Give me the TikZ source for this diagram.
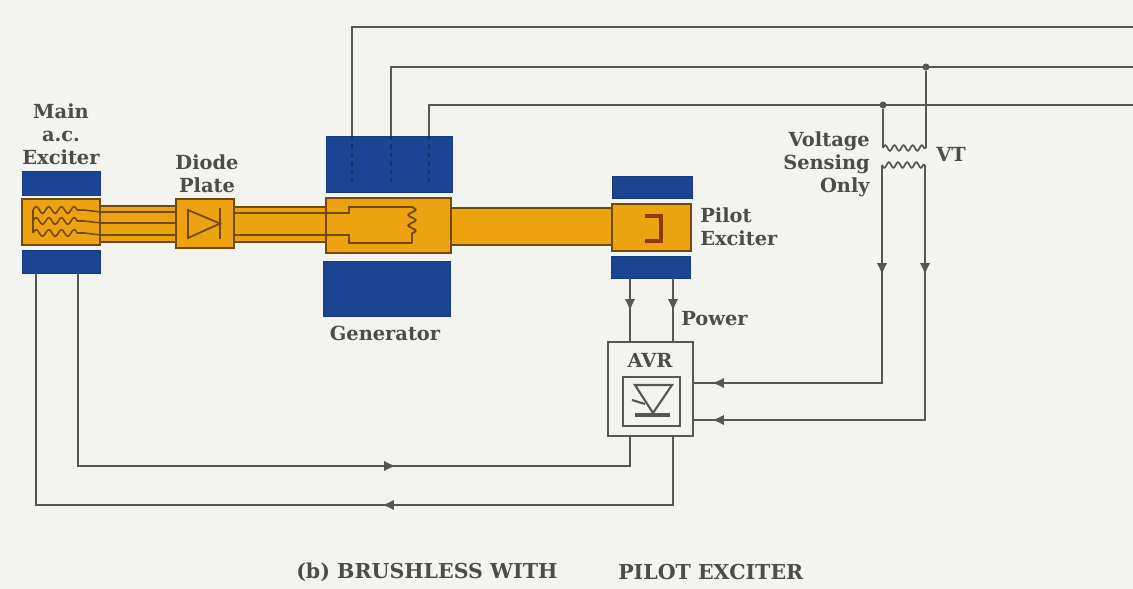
\documentclass[tikz,border=0pt]{standalone}
\usepackage{fontspec}
\setmainfont{DejaVu Serif}
\usetikzlibrary{arrows.meta, shapes.misc, decorations.pathmorphing, positioning}
\definecolor{paper}{HTML}{F3F3F0}
\definecolor{statorblue}{HTML}{1B4593}
\definecolor{statordark}{HTML}{153A7E}
\definecolor{rotororange}{HTML}{EDA20F}
\definecolor{rotoredge}{HTML}{6F4A0A}
\definecolor{wiregray}{HTML}{565654}
\definecolor{labelgray}{HTML}{4C4C4A}
\definecolor{magnetbrown}{HTML}{8A3A08}

\begin{document}
\begin{tikzpicture}[x=0.025cm,y=-0.025cm,>={Latex[length=8.5pt,width=7.5pt]}]
        \tikzstyle{stator} = [fill=statorblue, draw=statordark, line width=0.4pt, inner sep=0pt]
        \tikzstyle{rotor} = [fill=rotororange, draw=rotoredge, line width=1.3pt, inner sep=0pt]
        \tikzstyle{shaft} = [fill=rotororange, draw=rotoredge, line width=1.3pt, inner sep=0pt]
        \tikzstyle{rotorline} = [draw=rotoredge, line width=1.3pt]
        \tikzstyle{wire} = [draw=wiregray, line width=1.5pt]
        \tikzstyle{label} = [text=labelgray, font=\fontsize{13.8}{16.5}\selectfont\bfseries, inner sep=0pt]
        \tikzstyle{caption} = [text=labelgray, font=\fontsize{14.6}{17}\selectfont\bfseries, inner sep=0pt]
        \tikzstyle{dot} = [circle, fill=wiregray, minimum size=5pt, inner sep=0pt]
        \tikzstyle{winding} = [draw=wiregray, line width=1.2pt, decorate, decoration={coil, aspect=0, segment length=6.5pt, amplitude=2pt}]
        \tikzstyle{box} = [draw=wiregray, line width=1.5pt, fill=paper, inner sep=0pt]

        %Sheet
        \useasboundingbox (0,0) rectangle (1133,588);
        \fill[paper] (-5,-5) rectangle (1138,593);

        %Shafts go first, the machines sit on top of them
        \node [shaft, minimum width=2.1cm, minimum height=0.9cm] (mainShaft) at (138,224) {};
        \node [shaft, minimum width=2.45cm, minimum height=0.88cm] (genShaft) at (279,224.5) {};
        \node [shaft, minimum width=4.15cm, minimum height=0.92cm] (pilotShaft) at (532,226.5) {};

        %Creating Blocks
        \node [stator, minimum width=1.95cm, minimum height=0.6cm] (mainTop) at (61,183) {};
        \node [rotor, minimum width=1.95cm, minimum height=1.17cm] (mainRotor) at (61,222) {};
        \node [stator, minimum width=1.95cm, minimum height=0.58cm] (mainBot) at (61,261.5) {};
        \node [rotor, chamfered rectangle, chamfered rectangle xsep=3pt, chamfered rectangle ysep=3pt,
            minimum width=1.45cm, minimum height=1.22cm] (plate) at (205,223.5) {};
        \node [stator, minimum width=3.15cm, minimum height=1.4cm] (genTop) at (389,164) {};
        \node [rotor, minimum width=3.12cm, minimum height=1.38cm] (genRotor) at (388.5,225.5) {};
        \node [stator, minimum width=3.17cm, minimum height=1.38cm] (genBot) at (386.5,288.5) {};
        \node [stator, minimum width=2cm, minimum height=0.55cm] (pilotTop) at (652,187) {};
        \node [rotor, minimum width=1.98cm, minimum height=1.18cm] (pilotRotor) at (651.5,227.5) {};
        \node [stator, minimum width=1.98cm, minimum height=0.55cm] (pilotBot) at (650.5,267) {};
        \node [box, minimum width=2.12cm, minimum height=2.35cm] (avr) at (650.5,389) {};
        \node [box, minimum width=1.42cm, minimum height=1.22cm] (avrInner) at (651.5,401.5) {};

        %Rotor wiring
        \foreach \y in {212,223,235} {
            \draw[rotorline] (mainRotor.east |- 0,\y) -- (plate.west |- 0,\y);
            \draw[rotorline, line width=1.1pt, decorate, decoration={coil, aspect=0, segment length=9pt, amplitude=2.4pt}]
                (33,\y-2) -- (84,\y-2);
            \draw[rotorline, line width=1.1pt] (84,\y-2) -- (mainRotor.east |- 0,\y);
        }
        \draw[rotorline, line width=1.1pt] (33,210) -- (33,233);
        \draw[rotorline] (plate.east |- 0,213) -- (349,213) -- (349,207) -- (412,207);
        \draw[rotorline] (plate.east |- 0,235) -- (349,235) -- (349,243) -- (412,243);
        \draw[rotorline, decorate, decoration={coil, aspect=0, segment length=7.5pt, amplitude=2.6pt}]
            (412,207) -- (412,243);

        %Diode and pilot magnet
        \draw[rotorline] (188,210) -- (220,223.5) -- (188,238) -- cycle;
        \draw[rotorline, line width=2pt] (220,208) -- (220,239);
        \draw[magnetbrown, line width=2.4pt] (645,216) -- (661,216) -- (661,241) -- (645,241);

        %Generator stator coils
        \coordinate (tapA) at (352,136);
        \coordinate (tapB) at (391,136);
        \coordinate (tapC) at (429,136);
        \foreach \t in {tapA,tapB,tapC}
            \draw[statordark!85!black, line width=1.2pt, dashed] (\t) -- ++(0,46);

        %Bus bars
        \coordinate (busA) at (1133,27);
        \coordinate (busB) at (1133,67);
        \coordinate (busC) at (1133,105);
        \draw[wire] (tapA) |- (busA);
        \draw[wire] (tapB) |- (busB);
        \draw[wire] (tapC) |- (busC);

        %Voltage transformer
        \node [dot] (dotB) at (926,67) {};
        \node [dot] (dotC) at (883,105) {};
        \coordinate (vtPriL) at (883,148);
        \coordinate (vtPriR) at (926,148);
        \coordinate (vtSecL) at (882,165);
        \coordinate (vtSecR) at (925,165);
        \draw[wire] (dotC) -- (vtPriL);
        \draw[wire] (dotB) -- (vtPriR);
        \draw[winding] (vtPriL) -- (vtPriR);
        \draw[winding, decoration={mirror}] (vtSecL) -- (vtSecR);

        %Connecting Blocks
        \coordinate (arrowPL) at (630,311);
        \coordinate (arrowPR) at (673,311);
        \coordinate (arrowVL) at (882,275);
        \coordinate (arrowVR) at (925,275);
        \coordinate (arrowAL) at (712,383);
        \coordinate (arrowAR) at (712,420);
        \coordinate (arrowFI) at (396,466);
        \coordinate (arrowFO) at (382,505);
        \coordinate (startFI) at (78,273);
        \coordinate (startFO) at (36,273);
        \draw[wire] (arrowPL |- pilotBot.south) -- (arrowPL |- avr.north);
        \draw[wire] (arrowPR |- pilotBot.south) -- (arrowPR |- avr.north);
        \draw[wire] (vtSecL) |- (avr.east |- arrowAL);
        \draw[wire] (vtSecR) |- (avr.east |- arrowAR);
        \draw[wire] (startFI) |- (arrowFI) -| (arrowPL |- avr.south);
        \draw[wire] (arrowPR |- avr.south) |- (arrowFO) -| (startFO);
        %Arrow heads half way along the wires
        \draw[wire,->] (arrowPL |- pilotBot.south) -- (arrowPL);
        \draw[wire,->] (arrowPR |- pilotBot.south) -- (arrowPR);
        \draw[wire,->] (vtSecL) -- (arrowVL);
        \draw[wire,->] (vtSecR) -- (arrowVR);
        \draw[wire,->] (arrowVL |- arrowAL) -- (arrowAL);
        \draw[wire,->] (arrowVR |- arrowAR) -- (arrowAR);
        \draw[wire,->] (startFI |- arrowFI) -- (arrowFI);
        \draw[wire,->] (arrowPR |- arrowFO) -- (arrowFO);

        %AVR symbol
        \draw[wire] (635,385) -- (672,385) -- (653,413) -- cycle;
        \draw[wire, line width=2.4pt] (635,415) -- (670,415);
        \draw[wire] (632,400) -- (645,404);

        %Labels
        \node [label, align=center] (mainLabel) at (61,134) {Main\\a.c.\\Exciter};
        \node [label, align=center] (plateLabel) at (207,173.5) {Diode\\Plate};
        \node [label] (genLabel) at (385,333) {Generator};
        \node [label, align=left, anchor=west] (pilotLabel) at (700,227) {Pilot\\Exciter};
        \node [label, anchor=west] (powerLabel) at (681,319) {Power};
        \node [label] (avrLabel) at (650,360) {AVR};
        \node [label, align=right, anchor=east] (senseLabel) at (870,164) {Voltage\\Sensing\\Only};
        \node [label, anchor=west] (vtLabel) at (936,154) {VT};
        \node [caption, anchor=west] (captionA) at (296,572) {(b) BRUSHLESS WITH};
        \node [caption, anchor=west] (captionB) at (618,572) {PILOT EXCITER};
\end{tikzpicture}
\end{document}
